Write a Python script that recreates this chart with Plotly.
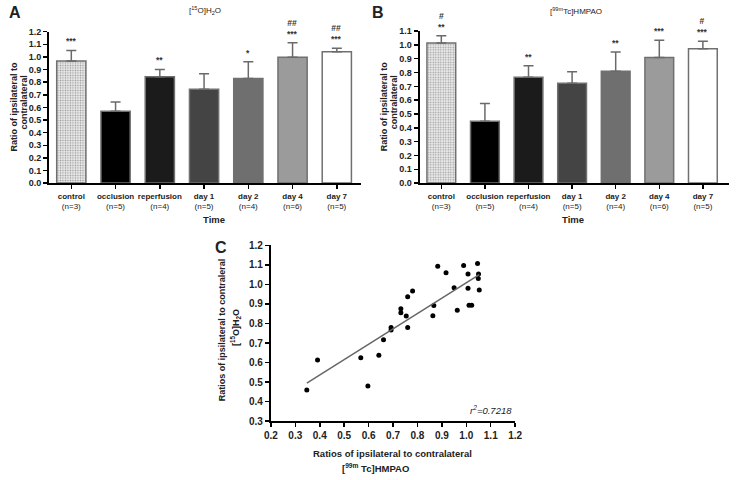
import numpy as np
import plotly.graph_objects as go

# ---------------- data ----------------
categories = ["control", "occlusion", "reperfusion", "day 1", "day 2", "day 4", "day 7"]
n_labels = ["(n=3)", "(n=5)", "(n=4)", "(n=5)", "(n=4)", "(n=6)", "(n=5)"]

water_mean = [0.968, 0.570, 0.842, 0.744, 0.829, 0.997, 1.041]
water_err_top = [1.051, 0.643, 0.901, 0.866, 0.961, 1.113, 1.069]
water_sig = ["***", "", "**", "", "*", "##<br>***", "##<br>***"]

hmpao_mean = [1.013, 0.448, 0.766, 0.723, 0.810, 0.909, 0.973]
hmpao_err_top = [1.066, 0.576, 0.849, 0.806, 0.948, 1.034, 1.027]
hmpao_sig = ["#<br>**", "", "**", "", "**", "***", "#<br>***"]

scatter_x = [0.347, 0.391, 0.568, 0.597, 0.642, 0.661, 0.692, 0.692, 0.732, 0.732,
             0.754, 0.760, 0.760, 0.780, 0.867, 0.863, 0.883, 0.917, 0.950, 0.963,
             0.989, 1.007, 1.007, 1.011, 1.022, 1.046, 1.050, 1.049, 1.053]
scatter_y = [0.460, 0.613, 0.625, 0.480, 0.638, 0.717, 0.780, 0.767, 0.875, 0.855,
             0.838, 0.937, 0.780, 0.967, 0.892, 0.840, 1.093, 1.060, 0.983, 0.868,
             1.097, 1.053, 0.980, 0.893, 0.893, 1.107, 1.053, 1.030, 0.972]
r2_text = "r<sup>2</sup>=0.7218"

bar_colors = ["#ececec", "#000000", "#1b1b1b", "#444444", "#6f6f6f", "#9b9b9b", "#ffffff"]
pattern_shapes = [".", "", "", "", "", "", ""]

FONT = "Liberation Sans, Arial, sans-serif"
W, H = 738, 480

ticktext = [f"<b>{c}</b><br>{n}" for c, n in zip(categories, n_labels)]

fig = go.Figure()


def add_bars(xa, ya, means, tops):
    fig.add_trace(go.Bar(
        x=categories, y=means, xaxis=xa, yaxis=ya,
        width=0.66,
        marker=dict(color=bar_colors,
                    line=dict(color="#707070", width=1.5),
                    pattern=dict(shape=pattern_shapes, fgcolor="#b8b8b8",
                                 bgcolor="#f4f4f4", size=2.5, solidity=0.3)),
        error_y=dict(type="data", symmetric=False,
                     array=[t - m for t, m in zip(tops, means)],
                     arrayminus=[0] * len(means),
                     color="#6a6a6a", thickness=1.5, width=5),
        showlegend=False, hoverinfo="skip",
    ))


add_bars("x", "y", water_mean, water_err_top)
add_bars("x2", "y2", hmpao_mean, hmpao_err_top)

# scatter + regression
fig.add_trace(go.Scatter(x=scatter_x, y=scatter_y, mode="markers", xaxis="x3", yaxis="y3",
                         marker=dict(color="black", size=5), showlegend=False))
slope, intercept = np.polyfit(scatter_x, scatter_y, 1)
xfit = [min(scatter_x), max(scatter_x)]
fig.add_trace(go.Scatter(x=xfit, y=[slope * v + intercept for v in xfit], mode="lines",
                         xaxis="x3", yaxis="y3", line=dict(color="#666666", width=1.5),
                         showlegend=False))


def px_x(p):
    return p / W


def px_y(p):
    return 1 - p / H


axis_common = dict(showline=True, linecolor="black", linewidth=2, ticks="outside",
                   tickcolor="black", tickwidth=1.5, ticklen=4, showgrid=False,
                   zeroline=False, mirror=False)

bar_x_common = dict(axis_common, type="category", range=[-0.5, 6.55],
                    tickvals=categories, ticktext=ticktext, tickangle=0,
                    tickfont=dict(family=FONT, size=8, color="#222"))
bar_y_common = dict(axis_common, dtick=0.1, tickformat=".1f",
                    tickfont=dict(family=FONT, size=9, color="#222", weight="bold"))

fig.update_layout(
    width=W, height=H, margin=dict(l=0, r=0, t=0, b=0),
    paper_bgcolor="white", plot_bgcolor="white",
    font=dict(family=FONT, color="#222"),
    bargap=0.3,
    xaxis=dict(bar_x_common, domain=[px_x(43), px_x(361)], anchor="y"),
    yaxis=dict(bar_y_common, domain=[px_y(182.3), px_y(27.3)], range=[0, 1.2], anchor="x"),
    xaxis2=dict(bar_x_common, domain=[px_x(420.5), px_x(736)], anchor="y2",
                range=[-0.5, 6.6]),
    yaxis2=dict(bar_y_common, domain=[px_y(182.3), px_y(26.7)], range=[0, 1.1], anchor="x2"),
    xaxis3=dict(axis_common, domain=[px_x(269), px_x(518)], range=[0.2, 1.2], dtick=0.1,
                tickformat=".1f", anchor="y3",
                tickfont=dict(family=FONT, size=10, color="#222", weight="bold")),
    yaxis3=dict(axis_common, domain=[px_y(426), px_y(246)], range=[0.3, 1.2], dtick=0.1,
                tickformat=".1f", anchor="x3",
                tickfont=dict(family=FONT, size=10, color="#222", weight="bold")),
)

ann = []
# significance markers
for xa, ya, tops, sig in (("x", "y", water_err_top, water_sig), ("x2", "y2", hmpao_err_top, hmpao_sig)):
    for c, t, s in zip(categories, tops, sig):
        if s:
            ann.append(dict(x=c, y=t, xref=xa, yref=ya, text=s, showarrow=False,
                            yanchor="bottom", yshift=2,
                            font=dict(family=FONT, size=8.5, color="#333", weight="bold")))


def paper_text(x, y, text, size, bold=True, angle=0, italic=False, xanchor="center"):
    ann.append(dict(x=px_x(x), y=px_y(y), xref="paper", yref="paper", text=text,
                    showarrow=False, textangle=angle, xanchor=xanchor, yanchor="middle",
                    font=dict(family=FONT, size=size, color="#222",
                              weight="bold" if bold else "normal",
                              style="italic" if italic else "normal")))


# panel letters
paper_text(8, 8, "A", 16)
paper_text(378, 8, "B", 16)
paper_text(218, 248, "C", 16)
# panel titles
paper_text(202, 6, "[<sup>15</sup>O]H<sub>2</sub>O", 8, bold=False)
paper_text(580, 6, "[<sup>99m</sup>Tc]HMPAO", 8, bold=False)
# y titles of bar panels
paper_text(7, 104, "Ratio of ipsilateral to", 9, angle=-90)
paper_text(17, 100, "contralateral", 9, angle=-90)
paper_text(384, 104, "Ratio of ipsilateral to", 9, angle=-90)
paper_text(394, 100, "contralateral", 9, angle=-90)
# x titles of bar panels
paper_text(211, 220, "Time", 9.5)
paper_text(577, 220, "Time", 9.5)
# scatter titles
paper_text(220, 332, "Ratios of ipsilateral to contraleral", 9, angle=-90)
paper_text(233, 330, "[<sup>15</sup>O]H<sub>2</sub>O", 9, angle=-90)
paper_text(393, 459, "Ratios of ipsilateral to contralateral", 9.5)
paper_text(376, 474, "[<sup>99m</sup> Tc]HMPAO", 9.5)
paper_text(517, 415, r2_text, 9.5, bold=False, italic=True, xanchor="right")

fig.update_layout(annotations=ann)
fig.write_html("out.html", config={"displayModeBar": False, "staticPlot": True},
               post_script="document.body.style.margin='0px';document.body.style.overflow='hidden';")
